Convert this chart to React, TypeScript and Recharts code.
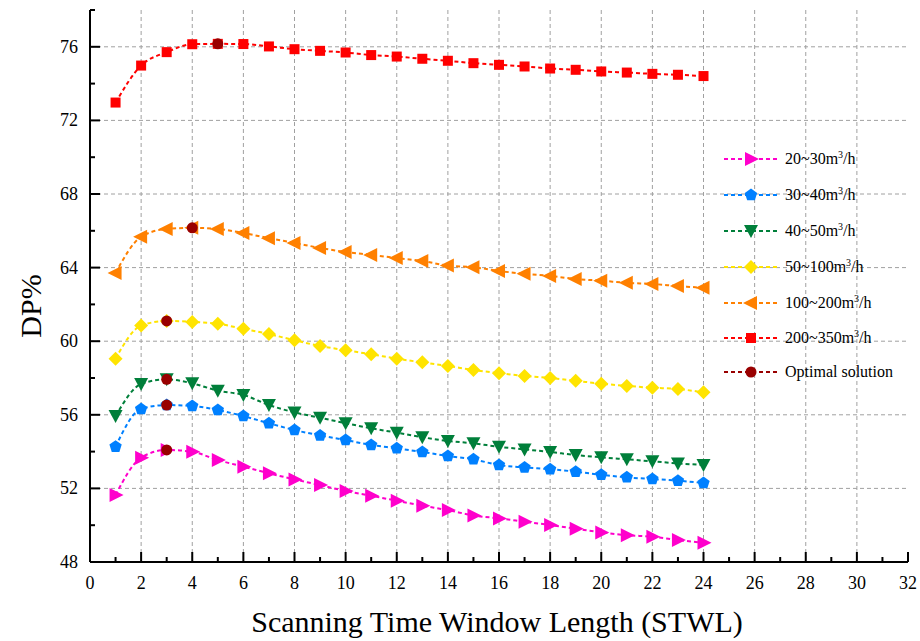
import React from "react";
import { ComposedChart, Line, XAxis, YAxis, CartesianGrid } from "recharts";

const stwl = [1, 2, 3, 4, 5, 6, 7, 8, 9, 10, 11, 12, 13, 14, 15, 16, 17, 18, 19, 20, 21, 22, 23, 24];

const flow20to30 = [51.64, 53.67, 54.09, 53.99, 53.54, 53.18, 52.82, 52.49, 52.18, 51.86, 51.6, 51.33, 51.06, 50.82, 50.53, 50.37, 50.19, 50.01, 49.81, 49.61, 49.46, 49.37, 49.19, 49.05];
const flow30to40 = [54.27, 56.32, 56.53, 56.48, 56.26, 55.93, 55.54, 55.17, 54.88, 54.63, 54.36, 54.18, 53.98, 53.76, 53.58, 53.27, 53.14, 53.04, 52.91, 52.74, 52.6, 52.51, 52.42, 52.29];
const flow40to50 = [55.93, 57.67, 57.93, 57.71, 57.31, 57.08, 56.53, 56.13, 55.84, 55.54, 55.27, 55.03, 54.78, 54.58, 54.45, 54.26, 54.12, 53.98, 53.81, 53.69, 53.58, 53.47, 53.36, 53.27];
const flow50to100 = [59.05, 60.85, 61.1, 61.05, 60.95, 60.67, 60.39, 60.05, 59.74, 59.51, 59.29, 59.05, 58.85, 58.65, 58.44, 58.26, 58.11, 58.0, 57.85, 57.69, 57.57, 57.47, 57.4, 57.22];
const flow100to200 = [63.71, 65.67, 66.1, 66.16, 66.1, 65.88, 65.6, 65.34, 65.07, 64.85, 64.69, 64.52, 64.36, 64.11, 64.02, 63.82, 63.66, 63.55, 63.38, 63.29, 63.17, 63.11, 63.0, 62.9];
const flow200to350 = [72.97, 74.98, 75.71, 76.14, 76.16, 76.15, 76.02, 75.87, 75.78, 75.69, 75.55, 75.47, 75.35, 75.24, 75.11, 75.02, 74.93, 74.82, 74.75, 74.66, 74.6, 74.53, 74.48, 74.41];

const optimalX = [5, 4, 3, 3, 3, 3];
const optimalY = [76.16, 66.16, 61.1, 57.93, 56.53, 54.09];

const xTicks = [0, 1, 2, 3, 4, 5, 6, 7, 8, 9, 10, 11, 12, 13, 14, 15, 16, 17, 18, 19, 20, 21, 22, 23, 24, 25, 26, 27, 28, 29, 30, 31, 32];
const yTicks = [48, 50, 52, 54, 56, 58, 60, 62, 64, 66, 68, 70, 72, 74, 76, 78];
const xGrid = [2, 4, 6, 8, 10, 12, 14, 16, 18, 20, 22, 24, 26, 28, 30];
const yGrid = [52, 56, 60, 64, 68, 72, 76];

const FONT = '"Liberation Serif", "Times New Roman", serif';

type Shape = "right" | "pentagon" | "down" | "diamond" | "left" | "square" | "circle";

const series: { key: string; label: string; color: string; shape: Shape; values: number[] }[] = [
  { key: "s1", label: "20~30m", color: "#ff00cc", shape: "right", values: flow20to30 },
  { key: "s2", label: "30~40m", color: "#0080ff", shape: "pentagon", values: flow30to40 },
  { key: "s3", label: "40~50m", color: "#007f3a", shape: "down", values: flow40to50 },
  { key: "s4", label: "50~100m", color: "#ffe400", shape: "diamond", values: flow50to100 },
  { key: "s5", label: "100~200m", color: "#ff8000", shape: "left", values: flow100to200 },
  { key: "s6", label: "200~350m", color: "#ff0000", shape: "square", values: flow200to350 },
];

const OPT_COLOR = "#990000";

const data = stwl.map((x, i) => {
  const row: Record<string, number> = { x };
  series.forEach((s) => (row[s.key] = s.values[i]));
  return row;
});

const optimal = optimalX.map((x, i) => ({ x, opt: optimalY[i] }));

function marker(shape: Shape, cx: number, cy: number, color: string, key?: string | number) {
  switch (shape) {
    case "right":
      return <polygon key={key} points={`${cx - 6},${cy - 7} ${cx + 8},${cy} ${cx - 6},${cy + 7}`} fill={color} />;
    case "left":
      return <polygon key={key} points={`${cx + 6},${cy - 7} ${cx - 8},${cy} ${cx + 6},${cy + 7}`} fill={color} />;
    case "down":
      return <polygon key={key} points={`${cx - 7},${cy - 6} ${cx + 7},${cy - 6} ${cx},${cy + 7}`} fill={color} />;
    case "diamond":
      return <polygon key={key} points={`${cx},${cy - 7} ${cx + 7},${cy} ${cx},${cy + 7} ${cx - 7},${cy}`} fill={color} />;
    case "pentagon": {
      const pts = [0, 1, 2, 3, 4]
        .map((k) => {
          const a = -Math.PI / 2 + (k * 2 * Math.PI) / 5;
          return `${cx + 6.5 * Math.cos(a)},${cy + 6.5 * Math.sin(a)}`;
        })
        .join(" ");
      return <polygon key={key} points={pts} fill={color} />;
    }
    case "square":
      return <rect key={key} x={cx - 5} y={cy - 5} width={10} height={10} fill={color} />;
    default:
      return <circle key={key} cx={cx} cy={cy} r={5.5} fill={color} />;
  }
}

function XTick(props: any) {
  const { x, y, payload } = props;
  const major = payload.value % 2 === 0;
  return (
    <g>
      <line x1={x} x2={x} y1={y} y2={y - (major ? 10 : 5)} stroke="#000" strokeWidth={2} />
      {major && (
        <text x={x} y={y + 27} textAnchor="middle" fontSize={18} fontFamily={FONT} fill="#000">
          {payload.value}
        </text>
      )}
    </g>
  );
}

function YTick(props: any) {
  const { x, y, payload } = props;
  const major = (payload.value - 48) % 4 === 0;
  return (
    <g>
      <line x1={x} x2={x + (major ? 10 : 5)} y1={y} y2={y} stroke="#000" strokeWidth={2} />
      {major && (
        <text x={x - 12} y={y + 6} textAnchor="end" fontSize={18} fontFamily={FONT} fill="#000">
          {payload.value}
        </text>
      )}
    </g>
  );
}

const legendRows = [
  ...series.map((s) => ({ label: s.label, unit: true, color: s.color, shape: s.shape })),
  { label: "Optimal solution", unit: false, color: OPT_COLOR, shape: "circle" as Shape },
];

function LegendBox() {
  return (
    <div
      style={{
        position: "absolute",
        left: 722,
        top: 141,
        fontFamily: FONT,
        fontSize: 16,
        color: "#000",
      }}
    >
      {legendRows.map((r, i) => (
        <div key={i} style={{ display: "flex", alignItems: "center", height: i === 5 ? 33 : 36 }}>
          <svg width={58} height={20} style={{ marginRight: 5 }}>
            <line x1={2} x2={56} y1={10} y2={10} stroke={r.color} strokeWidth={2} strokeDasharray="4 3" />
            {marker(r.shape, 29, 10, r.color)}
          </svg>
          <span>
            {r.label}
            {r.unit && (
              <>
                <sup style={{ fontSize: 10 }}>3</sup>/h
              </>
            )}
          </span>
        </div>
      ))}
    </div>
  );
}

export default function App() {
  return (
    <div style={{ position: "absolute", left: 0, top: 0, width: 920, height: 641, background: "#fff" }}>
      <ComposedChart width={920} height={641} data={data} margin={{ top: 10, right: 12, left: 0, bottom: 0 }}>
        <CartesianGrid stroke="#a0a0a0" strokeDasharray="4 3" verticalValues={xGrid} horizontalValues={yGrid} />
        <XAxis
          dataKey="x"
          type="number"
          domain={[0, 32]}
          ticks={xTicks}
          interval={0}
          height={79}
          tickSize={0}
          tickMargin={0}
          tick={<XTick />}
          axisLine={{ stroke: "#000", strokeWidth: 2 }}
          tickLine={false}
          label={{
            content: (p: any) => (
              <text
                x={p.viewBox.x + p.viewBox.width / 2 - 2}
                y={p.viewBox.y + 70}
                textAnchor="middle"
                fontSize={30}
                fontFamily={FONT}
                fill="#000"
              >
                Scanning Time Window Length (STWL)
              </text>
            ),
          }}
        />
        <XAxis
          xAxisId="top"
          orientation="top"
          type="number"
          domain={[0, 32]}
          height={0}
          tick={false}
          tickLine={false}
          axisLine={{ stroke: "#000", strokeWidth: 2 }}
        />
        <YAxis
          type="number"
          domain={[48, 78]}
          ticks={yTicks}
          interval={0}
          width={90}
          tickSize={0}
          tickMargin={0}
          tick={<YTick />}
          tickLine={false}
          axisLine={{ stroke: "#000", strokeWidth: 2 }}
          label={{
            content: () => {
              const cx = 30;
              const cy = 306;
              return (
                <text
                  x={cx}
                  y={cy}
                  transform={`rotate(-90 ${cx} ${cy})`}
                  textAnchor="middle"
                  dominantBaseline="central"
                  fontSize={30}
                  fontFamily={FONT}
                  fill="#000"
                >
                  DP%
                </text>
              );
            },
          }}
        />
        <YAxis
          yAxisId="right"
          orientation="right"
          type="number"
          domain={[48, 78]}
          width={0}
          tick={false}
          tickLine={false}
          axisLine={{ stroke: "#000", strokeWidth: 2 }}
        />
        {series.map((s) => (
          <Line
            key={s.key}
            dataKey={s.key}
            type="monotone"
            stroke={s.color}
            strokeWidth={2}
            strokeDasharray="4 3"
            isAnimationActive={false}
            dot={(p: any) => marker(s.shape, p.cx, p.cy, s.color, `${s.key}-${p.index}`)}
            activeDot={false}
          />
        ))}
        <Line
          data={optimal}
          dataKey="opt"
          stroke="none"
          isAnimationActive={false}
          dot={(p: any) => marker("circle", p.cx, p.cy, OPT_COLOR, `opt-${p.index}`)}
          activeDot={false}
        />
      </ComposedChart>
      <LegendBox />
    </div>
  );
}
